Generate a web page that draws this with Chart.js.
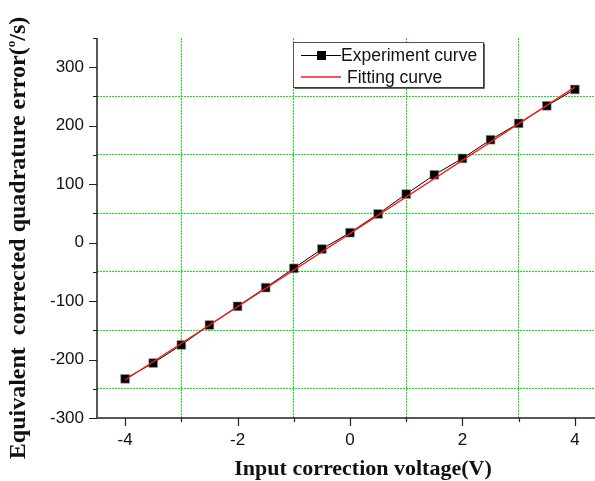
<!DOCTYPE html>
<html>
<head>
<meta charset="utf-8">
<script src="https://cdn.jsdelivr.net/npm/chart.js@4.4.1/dist/chart.umd.min.js"></script>
<style>
  html, body { margin: 0; padding: 0; background: #fff; overflow: hidden; }
  canvas { display: block; }
</style>
</head>
<body>
<canvas id="voltage-chart" width="610" height="481"></canvas>
<script>
// Measured points (input voltage vs corrected quadrature error)
const voltages = [-4, -3.5, -3, -2.5, -2, -1.5, -1, -0.5, 0, 0.5, 1, 1.5, 2, 2.5, 3, 3.5, 4];
const experimentValues = [-233, -206, -175, -141, -109, -77, -44, -11, 17, 49, 83, 116, 144, 176, 204, 234, 262];

// Fitted straight line, read at its two ends
const fitVoltages = [-4, 4];
const fitValues = [-235, 266];

// Axis ranges and ticks (major ones carry labels)
const xRange = [-4.5, 4.5];
const yRange = [-300, 350];
const xTickValues = [-4, -3, -2, -1, 0, 1, 2, 3, 4];
const xLabelTicks = [-4, -2, 0, 2, 4];
const yTickValues = [-300, -250, -200, -150, -100, -50, 0, 50, 100, 150, 200, 250, 300, 350];
const yLabelTicks = [-300, -200, -100, 0, 100, 200, 300];

const seriesLabels = ['Experiment curve', 'Fitting curve'];

const GRID_GREEN = '#00ee00';
const SANS = '"Liberation Sans", Arial, sans-serif';
const SERIF = '"Liberation Serif", "Times New Roman", serif';

/**
 * Origin-style axes: left and bottom lines with major and minor ticks
 */
const axesPlugin = {
    id: 'originAxes',
    afterDraw(chart) {
        const { ctx, chartArea: a, scales: { x, y } } = chart;
        ctx.save();
        ctx.strokeStyle = '#222';
        ctx.lineWidth = 1.5;
        ctx.beginPath();
        ctx.moveTo(a.left, a.top);
        ctx.lineTo(a.left, a.bottom);
        ctx.lineTo(a.right, a.bottom);
        ctx.stroke();

        ctx.lineWidth = 1.2;
        ctx.beginPath();
        x.ticks.forEach(t => {
            const px = Math.round(x.getPixelForValue(t.value)) + 0.5;
            const len = xLabelTicks.includes(t.value) ? 8 : 4;
            ctx.moveTo(px, a.bottom);
            ctx.lineTo(px, a.bottom + len);
        });
        y.ticks.forEach(t => {
            const py = Math.round(y.getPixelForValue(t.value)) + 0.5;
            const len = yLabelTicks.includes(t.value) ? 8 : 4;
            ctx.moveTo(a.left, py);
            ctx.lineTo(a.left - len, py);
        });
        ctx.stroke();

        // axis titles
        ctx.fillStyle = '#111';
        ctx.font = 'bold 22px ' + SERIF;
        ctx.textAlign = 'center';
        ctx.textBaseline = 'alphabetic';
        ctx.fillText('Input correction voltage(V)', 363, 475);

        ctx.translate(25, 238);
        ctx.rotate(-Math.PI / 2);
        const main = 'Equivalent  corrected quadrature error(';
        const tail = '/s)';
        const big = 'bold 24px ' + SERIF;
        const small = 'bold 13px ' + SERIF;
        ctx.font = big;
        const wMain = ctx.measureText(main).width;
        const wTail = ctx.measureText(tail).width;
        ctx.font = small;
        const wSup = ctx.measureText('o').width;
        const start = -(wMain + wSup + wTail) / 2;
        ctx.textAlign = 'left';
        ctx.font = big;
        ctx.fillText(main, start, 0);
        ctx.font = small;
        ctx.fillText('o', start + wMain, -10);
        ctx.font = big;
        ctx.fillText(tail, start + wMain + wSup, 0);
        ctx.restore();
    }
};

/**
 * Boxed legend in the upper middle of the plot
 */
const legendPlugin = {
    id: 'boxLegend',
    afterDraw(chart) {
        const { ctx } = chart;
        const box = { x: 293.5, y: 42.5, w: 190, h: 45 };
        ctx.save();
        ctx.fillStyle = '#fff';
        ctx.fillRect(box.x, box.y, box.w, box.h);
        ctx.strokeStyle = '#555';
        ctx.lineWidth = 1;
        ctx.strokeRect(box.x, box.y, box.w, box.h);
        ctx.strokeStyle = '#333';
        ctx.lineWidth = 1.5;
        ctx.beginPath();
        ctx.moveTo(box.x + box.w + 0.5, box.y + 1);
        ctx.lineTo(box.x + box.w + 0.5, box.y + box.h + 0.5);
        ctx.lineTo(box.x + 1, box.y + box.h + 0.5);
        ctx.stroke();

        const ds = chart.data.datasets;
        ctx.font = '17.5px ' + SANS;
        ctx.textBaseline = 'middle';

        // experiment entry
        const y1 = 55;
        ctx.strokeStyle = ds[1].borderColor;
        ctx.lineWidth = 1;
        ctx.beginPath();
        ctx.moveTo(301, y1 + 0.5);
        ctx.lineTo(341, y1 + 0.5);
        ctx.stroke();
        ctx.fillStyle = ds[1].pointBackgroundColor;
        ctx.fillRect(317, y1 - 4, 9, 9);
        ctx.fillStyle = '#111';
        ctx.fillText(ds[1].label, 341, y1 + 1);

        // fitting entry
        const y2 = 77;
        ctx.strokeStyle = ds[0].borderColor;
        ctx.lineWidth = 1.6;
        ctx.beginPath();
        ctx.moveTo(301, y2);
        ctx.lineTo(341, y2);
        ctx.stroke();
        ctx.fillText(ds[0].label, 347, y2 + 1);
        ctx.restore();
    }
};

// green dotted grid only at minor (odd) positions
function gridColor(value, labelled) {
    return labelled.includes(value) || value >= yRange[1] ? 'transparent' : GRID_GREEN;
}

const ctx = document.getElementById('voltage-chart').getContext('2d');

new Chart(ctx, {
    type: 'scatter',
    data: {
        datasets: [
            {
                label: seriesLabels[1],
                data: fitVoltages.map((v, i) => ({ x: v, y: fitValues[i] })),
                showLine: true,
                borderColor: '#ff1a1a',
                borderWidth: 1.4,
                pointRadius: 0,
                order: 0
            },
            {
                label: seriesLabels[0],
                data: voltages.map((v, i) => ({ x: v, y: experimentValues[i] })),
                showLine: true,
                borderColor: '#000',
                borderWidth: 1,
                pointStyle: 'rect',
                pointRadius: 6.2,
                pointBackgroundColor: '#000',
                pointBorderColor: '#999',
                pointBorderWidth: 0.6,
                order: 1
            }
        ]
    },
    options: {
        responsive: false,
        animation: false,
        layout: {
            padding: { top: 38, right: 7, left: 0, bottom: 0 }
        },
        plugins: {
            legend: { display: false },
            tooltip: { enabled: false }
        },
        scales: {
            x: {
                type: 'linear',
                min: xRange[0],
                max: xRange[1],
                border: { display: false, dash: [2, 1] },
                grid: {
                    drawTicks: false,
                    lineWidth: 1,
                    color: c => gridColor(c.tick.value, xLabelTicks)
                },
                ticks: {
                    autoSkip: false,
                    maxRotation: 0,
                    padding: 12,
                    color: '#111',
                    font: { family: SANS, size: 17 },
                    callback: v => xLabelTicks.includes(v) ? String(v) : ''
                },
                afterBuildTicks: s => { s.ticks = xTickValues.map(v => ({ value: v })); },
                afterFit: s => { s.height = 63; }
            },
            y: {
                type: 'linear',
                min: yRange[0],
                max: yRange[1],
                border: { display: false, dash: [2, 1] },
                grid: {
                    drawTicks: false,
                    lineWidth: 1,
                    color: c => gridColor(c.tick.value, yLabelTicks)
                },
                ticks: {
                    autoSkip: false,
                    padding: 13,
                    color: '#111',
                    font: { family: SANS, size: 17 },
                    callback: v => yLabelTicks.includes(v) ? String(v) : ''
                },
                afterBuildTicks: s => { s.ticks = yTickValues.map(v => ({ value: v })); },
                afterFit: s => { s.width = 97; }
            }
        }
    },
    plugins: [axesPlugin, legendPlugin]
});
</script>
</body>
</html>
